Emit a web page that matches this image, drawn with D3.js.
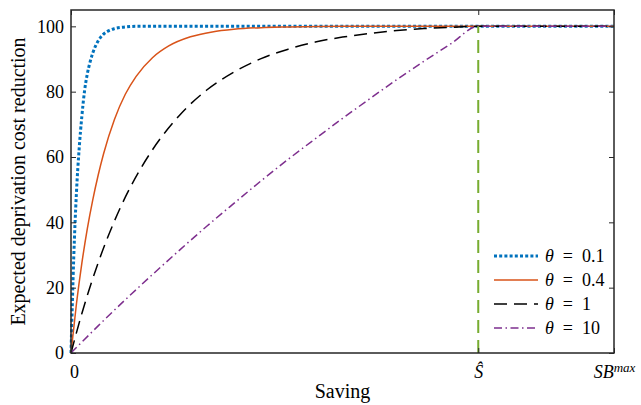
<!DOCTYPE html>
<html>
<head>
<meta charset="utf-8">
<script src="https://cdn.jsdelivr.net/npm/d3@7"></script>
</head>
<body style="margin:0;padding:0;background:#fff">
<svg id="chart" width="641" height="405" font-family="Liberation Serif" style="display:block"></svg>
<script>
// Saving (0 .. SB^max scaled to 0..100) vs expected deprivation cost reduction
const xTickValues = [0, 75, 100];
const xTickLabels = ["0", "Ŝ", "SB^max"];
const yTickValues = [0, 20, 40, 60, 80, 100];
const sHat = 75;

const thetaLabels = ["0.1", "0.4", "1", "10"];

const curveTheta01 = [[0,0],[0.5,29],[1,49],[1.5,62.5],[2,72.5],[2.5,80.3],[3,85.4],[3.5,89],
  [4,91.8],[5,95.5],[6,97.6],[7,98.7],[8,99.3],[10,99.8],[12,100],[75,100],[100,100]];
const curveTheta04 = [[0,0],[1,15],[2,27.5],[3,38],[4,46.8],[5,54.4],[6,61],[8,71.5],[10,79.2],
  [12,84.7],[15,90.4],[18,94],[22,96.8],[26,98.3],[30,99.1],[35,99.6],[40,99.8],[50,100],[75,100],[100,100]];
const curveTheta1 = [[0,0],[2,12.1],[5,27.6],[8,40.4],[10,47.7],[12.5,55.5],[15,62.2],[20,72.8],
  [25,80.5],[30,86],[35,90.1],[40,93],[45,95.2],[50,96.7],[55,97.8],[60,98.7],[65,99.3],[70,99.7],[75,100],[100,100]];
const curveTheta10 = [[0,0],[5,8.3],[10,16.3],[15,24],[20,31.5],[25,38.8],[30,45.8],[35,52.7],
  [40,59.3],[45,65.6],[50,71.8],[55,77.8],[60,83.7],[65,89.3],[70,94.7],[75,100],[100,100]];

const seriesData = [curveTheta01, curveTheta04, curveTheta1, curveTheta10];
const seriesColors = ["#0072BD", "#D95319", "#000000", "#7E2F8E"];
const seriesDash = ["3,2.2", null, "13,7", "8,3.5,1.5,3.5"];
const seriesWidth = [3, 1.5, 1.5, 1.5];

const W = 641, H = 405;
const margin = {left: 71, right: 27, top: 10, bottom: 52};
const svg = d3.select("#chart");
const FONT = "Liberation Serif";

const x = d3.scaleLinear().domain([0, 100]).range([margin.left, W - margin.right]);
const y = d3.scaleLinear().domain([0, 105]).range([H - margin.bottom, margin.top]);

const axisColor = "#262626";
const tickFont = 18;
const titleFont = 20;

// series lines
const line = d3.line().x(d => x(d[0])).y(d => y(d[1])).curve(d3.curveMonotoneX);
const gLines = svg.append("g");
seriesData.forEach((data, i) => {
  gLines.append("path")
    .attr("d", line(data))
    .attr("fill", "none")
    .attr("stroke", seriesColors[i])
    .attr("stroke-width", seriesWidth[i])
    .attr("stroke-dasharray", seriesDash[i]);
});

// vertical marker at S-hat
svg.append("line")
  .attr("x1", x(sHat)).attr("x2", x(sHat))
  .attr("y1", y(0)).attr("y2", y(100))
  .attr("stroke", "#77AC30")
  .attr("stroke-width", 2)
  .attr("stroke-dasharray", "13,7");

// axes with inward ticks
const tick = 5;
const yAxisL = svg.append("g").attr("transform", `translate(${x(0)},0)`)
  .call(d3.axisLeft(y).tickValues(yTickValues).tickSizeInner(-tick).tickSizeOuter(0).tickPadding(7));
const yAxisR = svg.append("g").attr("transform", `translate(${x(100)},0)`)
  .call(d3.axisRight(y).tickValues(yTickValues).tickSizeInner(-tick).tickSizeOuter(0).tickFormat(() => ""));
const xAxisB = svg.append("g").attr("transform", `translate(0,${y(0)})`)
  .call(d3.axisBottom(x).tickValues(xTickValues).tickSizeInner(-tick).tickSizeOuter(0).tickPadding(9).tickFormat(() => ""));
const xAxisT = svg.append("g").attr("transform", `translate(0,${y(105)})`)
  .call(d3.axisTop(x).tickValues(xTickValues).tickSizeInner(-tick).tickSizeOuter(0).tickFormat(() => ""));

[yAxisL, yAxisR, xAxisB, xAxisT].forEach(g => {
  g.attr("font-family", FONT).attr("font-size", tickFont);
  g.select(".domain").remove();
  g.selectAll(".tick line").attr("stroke", axisColor).attr("stroke-width", 1);
  g.selectAll("text").attr("font-family", FONT).attr("font-size", tickFont).attr("fill", "#000");
});

// x tick labels with italics / superscript
xAxisB.selectAll(".tick text").each(function(d, i) {
  const t = d3.select(this).text(null).attr("dy", "0.9em");
  const lab = xTickLabels[i];
  if (lab.includes("^")) {
    const [base, sup] = lab.split("^");
    t.append("tspan").attr("font-style", "italic").text(base);
    t.append("tspan").attr("font-style", "italic").attr("font-size", 13).attr("dy", "-0.45em").text(sup);
  } else if (lab === "0") {
    t.append("tspan").text(lab);
    t.attr("dx", 3);
  } else {
    t.append("tspan").attr("font-style", "italic").text(lab);
  }
});

// frame
svg.append("rect")
  .attr("x", x(0)).attr("y", y(105))
  .attr("width", x(100) - x(0)).attr("height", y(0) - y(105))
  .attr("fill", "none").attr("stroke", axisColor).attr("stroke-width", 1.5);

// axis titles
svg.append("text")
  .attr("x", (x(0) + x(100)) / 2).attr("y", 398)
  .attr("text-anchor", "middle").attr("font-family", FONT).attr("font-size", titleFont)
  .text("Saving");
svg.append("text")
  .attr("transform", `translate(25,${(y(0) + y(105)) / 2}) rotate(-90)`)
  .attr("text-anchor", "middle").attr("font-family", FONT).attr("font-size", titleFont)
  .text("Expected deprivation cost reduction");

// legend
const legX = 494, legY = 256, legStep = 24, legLen = 44;
const leg = svg.append("g").attr("font-family", FONT);
thetaLabels.forEach((lab, i) => {
  const yy = legY + i * legStep;
  leg.append("line")
    .attr("x1", legX).attr("x2", legX + legLen).attr("y1", yy).attr("y2", yy)
    .attr("stroke", seriesColors[i]).attr("stroke-width", seriesWidth[i])
    .attr("stroke-dasharray", seriesDash[i]);
  const t = leg.append("text")
    .attr("x", legX + legLen + 7).attr("y", yy).attr("dy", "0.33em")
    .attr("font-family", FONT).attr("font-size", tickFont);
  t.append("tspan").attr("font-style", "italic").text("θ");
  t.append("tspan").text("\u2002=\u2002" + lab);
});
</script>
</body>
</html>
